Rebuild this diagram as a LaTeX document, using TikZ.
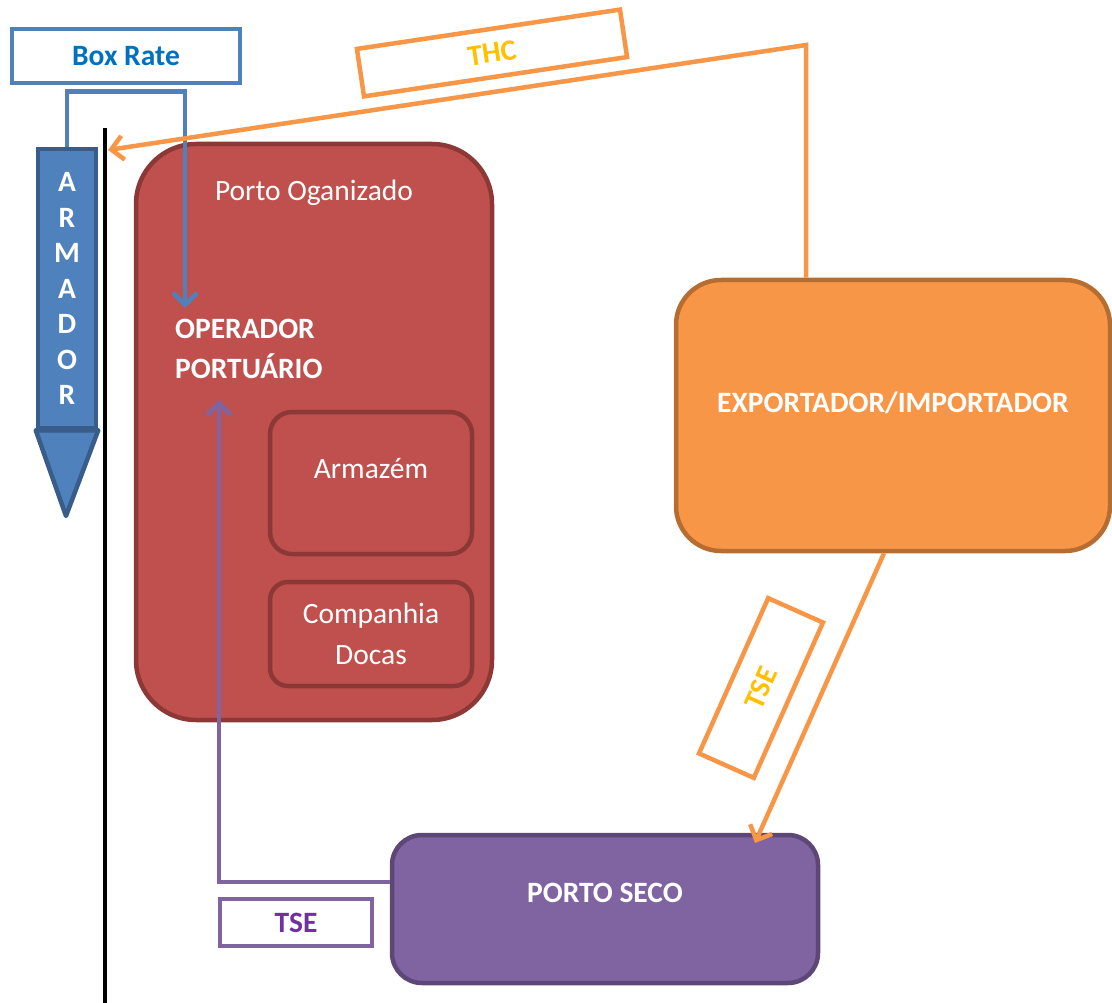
\documentclass[tikz,border=0pt]{standalone}
\usepackage{fontspec}
\setmainfont{Carlito}
\usetikzlibrary{positioning}
\usetikzlibrary{arrows.meta}
\usetikzlibrary{calc}

\definecolor{armblue}{HTML}{4F81BD}
\definecolor{armdark}{HTML}{385D8A}
\definecolor{ratetext}{HTML}{0070C0}
\definecolor{portored}{HTML}{C0504D}
\definecolor{portodark}{HTML}{8C3836}
\definecolor{expo}{HTML}{F79646}
\definecolor{expodark}{HTML}{B66D31}
\definecolor{seco}{HTML}{8064A2}
\definecolor{secodark}{HTML}{5C4776}
\definecolor{thcgold}{HTML}{FFC000}
\definecolor{tsepurple}{HTML}{7030A0}

\begin{document}
\begin{tikzpicture}[x=1pt, y=-1pt,
    plate/.style={draw, line width=4.5pt, inner sep=0pt},
    tag/.style={draw, line width=4.5pt, fill=white, inner sep=0pt, font=\fontsize{29.5}{34}\selectfont\bfseries},
    inscription/.style={text=white, inner sep=0pt, font=\fontsize{29.5}{41}\selectfont, align=center},
    link/.style={line width=4.5pt, -{Straight Barb[length=12pt, width=24pt]}}]

  \useasboundingbox (0, 0) rectangle (1112, 1003);

  % quay line
  \draw [line width=4pt] (105, 128) -- (105, 1003);

  % armador
  \node at (67, 288.5) (armador) [plate, fill=armblue, draw=armdark, minimum width=58pt, minimum height=279pt] {};
  \draw [line width=4.5pt, draw=armdark, fill=armblue, line join=round] (armador.south west) -- (66, 516) -- (armador.south east) -- cycle;
  \node at (armador) (armador letters) [inscription, font=\fontsize{29.5}{35.5}\selectfont\bfseries] {A\\R\\M\\A\\D\\O\\R};

  % porto organizado
  \node at (314, 432) (porto) [plate, fill=portored, draw=portodark, rounded corners=60pt, minimum width=356pt, minimum height=576pt] {};
  \node at (314, 193) (porto title) [inscription] {Porto Oganizado};
  \node at (175, 349) (operador) [inscription, anchor=west, align=left, font=\fontsize{29.5}{40}\selectfont\bfseries] {OPERADOR\\PORTUÁRIO};
  \node at (371, 483) (armazem) [plate, fill=portored, draw=portodark, rounded corners=22pt, minimum width=202pt, minimum height=142pt] {};
  \node at ($(armazem.center) + (0, -14)$) (armazem text) [inscription] {Armazém};
  \node at (371, 634) (docas) [plate, fill=portored, draw=portodark, rounded corners=18pt, minimum width=202pt, minimum height=104pt, inscription] {Companhia\\Docas};

  % exportador / importador
  \node at (893, 415.5) (exportador) [plate, fill=expo, draw=expodark, rounded corners=45pt, minimum width=434pt, minimum height=271pt] {};
  \node at ($(exportador.center) + (0, -13)$) (exportador text) [inscription, font=\fontsize{29.5}{34}\selectfont\bfseries] {EXPORTADOR/IMPORTADOR};

  % porto seco
  \node at (605, 909) (portoseco) [plate, fill=seco, draw=secodark, rounded corners=30pt, minimum width=426pt, minimum height=148pt] {};
  \node at ($(portoseco.center) + (0, -16)$) (portoseco text) [inscription, font=\fontsize{29.5}{34}\selectfont\bfseries] {PORTO SECO};

  % labels
  \node at (126, 56) (box rate) [tag, draw=armblue, text=ratetext, minimum width=228pt, minimum height=54pt] {Box Rate};
  \node at (492, 53) (thc) [tag, draw=expo, text=thcgold, rotate=8.5, minimum width=266pt, minimum height=48pt] {THC};
  \node at (761, 688) (tse export) [tag, draw=expo, text=thcgold, rotate=66, minimum width=170pt, minimum height=60pt] {TSE};
  \node at (296, 922.5) (tse seco) [tag, draw=seco, text=tsepurple, minimum width=152pt, minimum height=47pt] {TSE};

  % connector ends
  \coordinate (rate tip) at (185, 308);
  \coordinate (thc corner) at (806, 45);
  \coordinate (thc tip) at (108, 150);
  \coordinate (tse tip) at (755, 843);
  \coordinate (seco tip) at (219, 400);

  % connectors
  \draw [link, draw=armblue] (armador.north) -- ++(0, -55) -| (rate tip);
  \draw [link, draw=expo] (exportador.north -| thc corner) -- (thc corner) -- (thc tip);
  \draw [link, draw=expo] ($(exportador.south) + (-9, 0)$) -- (tse tip);
  \draw [link, draw=seco] ($(portoseco.west) + (0, -27)$) -| (seco tip);

\end{tikzpicture}
\end{document}
